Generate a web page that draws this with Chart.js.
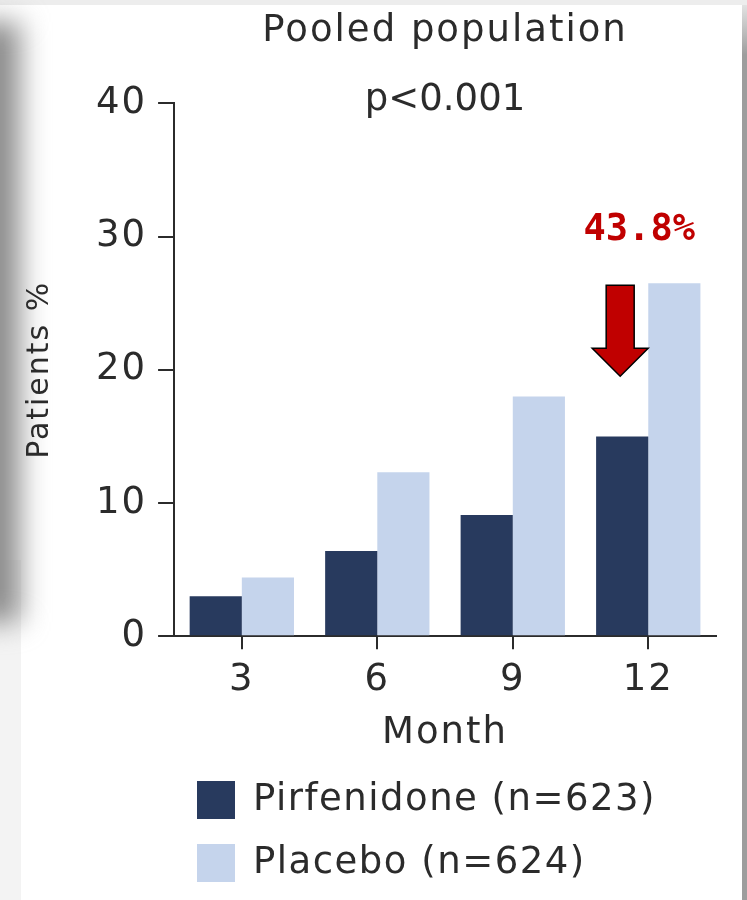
<!DOCTYPE html>
<html>
<head>
<meta charset="utf-8">
<script src="https://cdn.jsdelivr.net/npm/chart.js@4.4.1/dist/chart.umd.min.js"></script>
<style>
  html, body { margin: 0; padding: 0; background: #fff; }
  #wrap { position: relative; width: 747px; height: 900px; overflow: hidden; background: #fff; }
  .edge-top { position: absolute; left: 0; top: 0; width: 747px; height: 5px; background: #ededed; }
  .edge-left2 { position: absolute; left: 0; top: 560px; width: 21px; height: 340px; background: #f3f3f3; }
  .edge-left { position: absolute; left: -34px; top: 22px; width: 54px; height: 600px;
    background: #8c8c8c; filter: blur(14px); }
  .edge-right { position: absolute; left: 742px; top: 5px; width: 5px; height: 895px;
    background: linear-gradient(to bottom, #e2e2e2 0, #9d9d9d 50px, #9d9d9d 100%); }
  .holder { position: absolute; left: 0; top: 0; width: 747px; height: 900px; }
</style>
</head>
<body>
<div id="wrap">
  <div class="edge-top"></div>
  <div class="edge-left2"></div>
  <div class="edge-left"></div>
  <div class="edge-right"></div>
  <div class="holder"><canvas id="chart"></canvas></div>
</div>
<script>
const months = ["3", "6", "9", "12"];
const pirfenidone = [3.0, 6.4, 9.1, 15.0];
const placebo = [4.4, 12.3, 18.0, 26.5];
const yTicks = [0, 10, 20, 30, 40];
const seriesLabels = ["Pirfenidone (n=623)", "Placebo (n=624)"];
const pValue = "p<0.001";
const reduction = "43.8%";

const ink = "#2b2b2b";
const family = "'DejaVu Sans', sans-serif";
const font = { family: family, size: 37, weight: "normal" };

// wider tracking on the chart's own text (title, ticks, axis titles)
const tracking = {
  id: "tracking",
  beforeUpdate(chart) { chart.ctx.letterSpacing = "2px"; },
  beforeDraw(chart) { chart.ctx.letterSpacing = "2px"; }
};

// p-value, arrow, % label and the two-row legend
const extras = {
  id: "extras",
  afterDraw(chart) {
    const { ctx, chartArea } = chart;
    ctx.save();
    ctx.letterSpacing = "0px";
    ctx.fillStyle = ink;
    ctx.font = `37px ${family}`;
    ctx.textAlign = "center";
    ctx.textBaseline = "middle";
    ctx.fillText(pValue, (chartArea.left + chartArea.right) / 2, chartArea.top - 3);

    const dark = chart.getDatasetMeta(0).data[3];
    const light = chart.getDatasetMeta(1).data[3];
    const cx = dark.x - 2;
    const top = light.y + 2;
    const headTop = top + 63;
    const tip = top + 91;
    ctx.beginPath();
    ctx.moveTo(cx - 14, top);
    ctx.lineTo(cx + 14, top);
    ctx.lineTo(cx + 14, headTop);
    ctx.lineTo(cx + 28, headTop);
    ctx.lineTo(cx, tip);
    ctx.lineTo(cx - 28, headTop);
    ctx.lineTo(cx - 14, headTop);
    ctx.closePath();
    ctx.fillStyle = "#c00000";
    ctx.fill();
    ctx.lineWidth = 1.5;
    ctx.strokeStyle = "#000";
    ctx.stroke();

    ctx.fillStyle = "#c00000";
    ctx.font = `bold 37px 'DejaVu Sans Mono', monospace`;
    ctx.fillText(reduction, (dark.x + light.x) / 2 - 9, light.y - 53);

    ctx.textAlign = "left";
    ctx.font = `37px ${family}`;
    ctx.letterSpacing = "1.5px";
    chart.data.datasets.forEach((ds, i) => {
      const cy = 800 + i * 63;
      ctx.fillStyle = ds.backgroundColor;
      ctx.fillRect(197, cy - 19, 38, 38);
      ctx.fillStyle = ink;
      ctx.fillText(ds.label, 253, cy);
    });
    ctx.restore();
  }
};

new Chart(document.getElementById("chart"), {
  type: "bar",
  data: {
    labels: months,
    datasets: [{
      label: seriesLabels[0],
      data: pirfenidone,
      backgroundColor: "#283a5e",
      borderWidth: 0,
      categoryPercentage: 0.77,
      barPercentage: 1.0
    }, {
      label: seriesLabels[1],
      data: placebo,
      backgroundColor: "#c5d4ec",
      borderWidth: 0,
      categoryPercentage: 0.77,
      barPercentage: 1.0
    }]
  },
  options: {
    responsive: true, maintainAspectRatio: false,
    animation: false,
    layout: { padding: { left: 0, right: 31, top: 0, bottom: 144 } },
    plugins: {
      legend: { display: false },
      tooltip: { enabled: false },
      title: {
        display: true, text: "Pooled population", fullSize: false,
        color: ink, font: font, padding: { top: 9, bottom: 50 }
      }
    },
    scales: {
      x: {
        offset: true,
        grid: { offset: false, drawOnChartArea: false, tickLength: 13, color: ink, lineWidth: 2 },
        border: { color: ink, width: 2 },
        ticks: { color: ink, font: font, padding: 9 },
        title: { display: true, text: "Month", color: ink, font: font, padding: { top: 0, bottom: 0 } }
      },
      y: {
        min: 0, max: 40,
        afterBuildTicks: axis => { axis.ticks = yTicks.map(v => ({ value: v })); },
        grid: { drawOnChartArea: false, tickLength: 16, color: ink, lineWidth: 2 },
        border: { color: ink, width: 2 },
        ticks: { color: ink, font: font, padding: 11 },
        title: {
          display: true, text: "Patients %", color: ink,
          font: { family: family, size: 30, weight: "normal" },
          padding: { top: 22, bottom: 27 }
        }
      }
    }
  },
  plugins: [tracking, extras]
});
</script>
</body>
</html>
